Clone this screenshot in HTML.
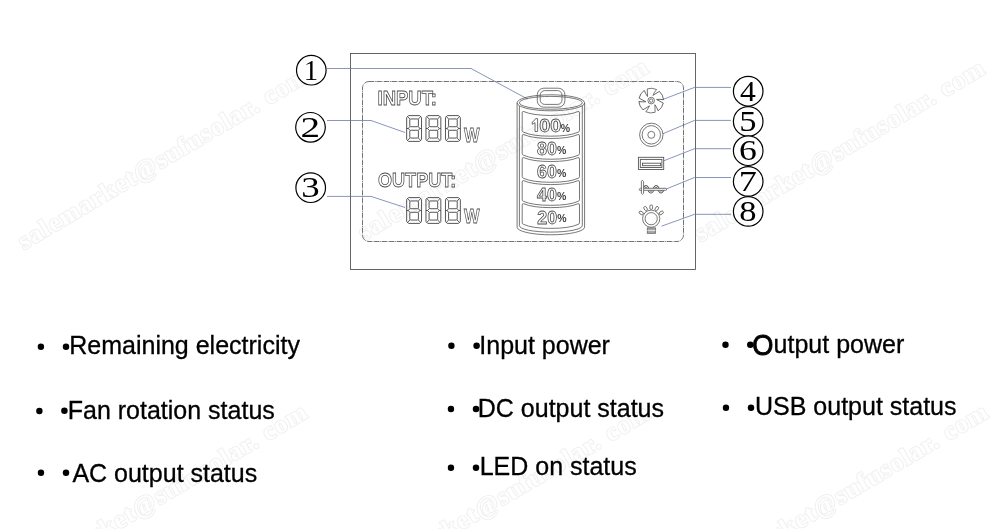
<!DOCTYPE html>
<html>
<head>
<meta charset="utf-8">
<title>LCD panel</title>
<style>
html,body{margin:0;padding:0;background:#fff;}
body{width:1000px;height:529px;overflow:hidden;font-family:"Liberation Sans",sans-serif;}
svg{display:block;position:absolute;left:0;top:0;will-change:transform;}
.wm{font-family:"Liberation Serif",serif;font-weight:bold;font-size:25px;fill:#fff;stroke:#f1f1f1;stroke-width:2.2;paint-order:stroke;stroke-linejoin:round;}
.lbl{font-family:"Liberation Sans",sans-serif;font-size:25px;fill:#000;stroke:#000;stroke-width:0.3;}
.num{font-family:"Liberation Serif",serif;font-size:28.8px;fill:#000;text-anchor:middle;}
.ol{font-family:"Liberation Sans",sans-serif;font-weight:bold;fill:none;stroke:#4a4a4a;stroke-width:0.8;}
.pct{font-family:"Liberation Sans",sans-serif;font-weight:bold;font-size:10.5px;fill:#444;}
.ic{fill:none;stroke:#555;stroke-width:0.8;}
.co{fill:none;stroke:#5f73a2;stroke-width:0.75;}
.ring{fill:#fff;stroke:#000;stroke-width:1.2;}
</style>
</head>
<body>
<svg width="1000" height="529" viewBox="0 0 1000 529">
<rect x="0" y="0" width="1000" height="529" fill="#fff"/>

<!-- watermarks -->
<g id="wm">
<text class="wm" transform="translate(24,250) rotate(-30.6)" textLength="332" lengthAdjust="spacing">salemarket@sufusolar. com</text>
<text class="wm" transform="translate(364,241) rotate(-30.6)" textLength="332" lengthAdjust="spacing">salemarket@sufusolar. com</text>
<text class="wm" transform="translate(700.5,242.2) rotate(-30.6)" textLength="332" lengthAdjust="spacing">salemarket@sufusolar. com</text>
<text class="wm" transform="translate(23,586) rotate(-30.6)" textLength="332" lengthAdjust="spacing">salemarket@sufusolar. com</text>
<text class="wm" transform="translate(365.7,586.7) rotate(-30.6)" textLength="332" lengthAdjust="spacing">salemarket@sufusolar. com</text>
<text class="wm" transform="translate(703.7,585.8) rotate(-30.6)" textLength="332" lengthAdjust="spacing">salemarket@sufusolar. com</text>
</g>

<!-- panel -->
<rect x="350.5" y="53.5" width="345" height="216" fill="none" stroke="#4a4a4a" stroke-width="0.85"/>
<rect x="362.5" y="81.5" width="321" height="160" rx="6.5" ry="6.5" fill="none" stroke="#5a5a5a" stroke-width="0.85" stroke-dasharray="5.2 0.8 0.8 0.7"/>

<!-- callout lines -->
<g class="co">
<polyline points="327,68.5 471,68.5 527.5,99"/>
<polyline points="327,120.5 371,120.5 405,132.5"/>
<polyline points="327,196.4 371,196.4 405,207.5"/>
<polyline points="731,87.4 694.5,87.4 662.5,99.6"/>
<polyline points="731,120.4 694.5,120.4 663,133.7"/>
<polyline points="731,148.7 694.5,148.7 664,160.7"/>
<polyline points="731,177.5 694.5,177.5 665,189.5"/>
<polyline points="731,214.3 694.5,214.3 661.5,226.2"/>
</g>

<!-- numbered circles -->
<g id="nums">
<circle class="ring" cx="311.3" cy="70.2" r="14.8"/><text class="num" transform="translate(311,79.5) scale(1,1)" x="0" y="0">1</text>
<circle class="ring" cx="310.5" cy="127.3" r="14.8"/><text class="num" transform="translate(310.2,136.6) scale(1.36,1)" x="0" y="0">2</text>
<circle class="ring" cx="310.7" cy="187.7" r="14.8"/><text class="num" transform="translate(310.4,197) scale(1.28,1)" x="0" y="0">3</text>
<circle class="ring" cx="748.2" cy="91.2" r="14.8"/><text class="num" transform="translate(747.9,100.5) scale(1.1,1)" x="0" y="0">4</text>
<circle class="ring" cx="748.2" cy="121.4" r="14.8"/><text class="num" transform="translate(747.9,130.7) scale(1.2,1)" x="0" y="0">5</text>
<circle class="ring" cx="748.2" cy="150.7" r="14.8"/><text class="num" transform="translate(747.9,160) scale(1.24,1)" x="0" y="0">6</text>
<circle class="ring" cx="748.2" cy="181.4" r="14.8"/><text class="num" transform="translate(747.9,190.7) scale(1.26,1)" x="0" y="0">7</text>
<circle class="ring" cx="748.2" cy="211.4" r="14.8"/><text class="num" transform="translate(747.9,220.7) scale(1.2,1)" x="0" y="0">8</text>
</g>

<!-- INPUT / OUTPUT -->
<text class="ol" x="377.6" y="104.8" font-size="20.5" textLength="59.4" lengthAdjust="spacingAndGlyphs">INPUT:</text>
<text class="ol" x="378" y="187.3" font-size="20.5" textLength="78.3" lengthAdjust="spacingAndGlyphs">OUTPUT:</text>
<text class="ol" x="464" y="141.5" font-size="21" textLength="15.6" lengthAdjust="spacingAndGlyphs">W</text>
<text class="ol" x="464" y="223.3" font-size="21" textLength="15.6" lengthAdjust="spacingAndGlyphs">W</text>

<!-- seven segment digits -->
<defs>
<g id="seg7" class="ic" transform="translate(0.7,0.2) scale(0.918,0.985)" stroke="#444" style="stroke:#444;stroke-width:0.95">
  <path d="M2.4,0.4 L14.6,0.4 L16.6,2.4 L16.6,24.6 L14.6,26.6 L2.4,26.6 L0.4,24.6 L0.4,2.4 Z"/>
  <path d="M4.6,3.8 L12.4,3.8 L13.2,4.6 L13.2,10.9 L12.4,11.7 L4.6,11.7 L3.8,10.9 L3.8,4.6 Z"/>
  <path d="M4.6,15.3 L12.4,15.3 L13.2,16.1 L13.2,22.4 L12.4,23.2 L4.6,23.2 L3.8,22.4 L3.8,16.1 Z"/>
  <path d="M1.2,1.2 L4.1,4.1 M15.8,1.2 L12.9,4.1 M1.2,25.8 L4.1,22.9 M15.8,25.8 L12.9,22.9"/>
  <path d="M0.4,13.5 L2,13.5 L4.2,11.5 M2,13.5 L4.2,15.5 M16.6,13.5 L15,13.5 L12.8,11.5 M15,13.5 L12.8,15.5"/>
</g>
</defs>
<use href="#seg7" x="405.6" y="115"/>
<use href="#seg7" x="424.9" y="115"/>
<use href="#seg7" x="444.4" y="115"/>
<use href="#seg7" x="405.6" y="197"/>
<use href="#seg7" x="424.9" y="197"/>
<use href="#seg7" x="444.4" y="197"/>

<!-- battery -->
<g id="battery" class="ic">
  <path d="M517.1,103 L517.1,227.2 A33.75,7.6 0 0 0 584.6,227.2 L584.6,103"/>
  <path d="M519.4,106 L519.4,225.7 A31.45,6.4 0 0 0 582.3,225.7 L582.3,106"/>
  <ellipse cx="550.85" cy="102.8" rx="33.75" ry="8"/>
  <ellipse cx="550.85" cy="102.8" rx="31.45" ry="6.4"/>
  <rect x="537.3" y="88.2" width="27.6" height="19" rx="6.5" ry="6.5"/>
  <rect x="540.2" y="90.6" width="21.8" height="13.8" rx="4.5" ry="4.5"/>
  <path d="M522.20,112.80 Q522.20,111.10 523.80,111.55 A31,7.6 0 0 0 577.90,111.55 Q579.50,111.10 579.50,112.80 L579.50,130.60 Q579.50,131.80 578.10,132.20 A31,7.6 0 0 1 523.60,132.20 Q522.20,131.80 522.20,130.60 Z"/>
  <path d="M522.20,135.85 Q522.20,134.15 523.80,134.60 A31,7.6 0 0 0 577.90,134.60 Q579.50,134.15 579.50,135.85 L579.50,153.65 Q579.50,154.85 578.10,155.25 A31,7.6 0 0 1 523.60,155.25 Q522.20,154.85 522.20,153.65 Z"/>
  <path d="M522.20,158.90 Q522.20,157.20 523.80,157.65 A31,7.6 0 0 0 577.90,157.65 Q579.50,157.20 579.50,158.90 L579.50,176.70 Q579.50,177.90 578.10,178.30 A31,7.6 0 0 1 523.60,178.30 Q522.20,177.90 522.20,176.70 Z"/>
  <path d="M522.20,181.95 Q522.20,180.25 523.80,180.70 A31,7.6 0 0 0 577.90,180.70 Q579.50,180.25 579.50,181.95 L579.50,199.75 Q579.50,200.95 578.10,201.35 A31,7.6 0 0 1 523.60,201.35 Q522.20,200.95 522.20,199.75 Z"/>
  <path d="M522.20,205.00 Q522.20,203.30 523.80,203.75 A31,7.6 0 0 0 577.90,203.75 Q579.50,203.30 579.50,205.00 L579.50,222.80 Q579.50,224.00 578.10,224.40 A31,7.6 0 0 1 523.60,224.40 Q522.20,224.00 522.20,222.80 Z"/>
</g>
<g id="battxt">
<path class="ol" d="M537.6,131.5 L537.6,118.6 L535.6,118.6 Q534.6,121 532.2,122 L532.2,124.3 Q534,123.6 535,122.6 L535,131.5 Z"/><text class="ol" x="539.2" y="131.5" font-size="18.2" textLength="22" lengthAdjust="spacingAndGlyphs">00</text><text class="pct" x="560.8" y="131.6">%</text>
<text class="ol" x="537" y="154.6" font-size="18.2" textLength="19.8" lengthAdjust="spacingAndGlyphs">80</text><text class="pct" x="557" y="154.4">%</text>
<text class="ol" x="537" y="177.7" font-size="18.2" textLength="19.8" lengthAdjust="spacingAndGlyphs">60</text><text class="pct" x="557" y="177.3">%</text>
<text class="ol" x="537" y="200.8" font-size="18.2" textLength="19.8" lengthAdjust="spacingAndGlyphs">40</text><text class="pct" x="557" y="200.2">%</text>
<text class="ol" x="537.3" y="223.9" font-size="18.2" textLength="19.8" lengthAdjust="spacingAndGlyphs">20</text><text class="pct" x="557.2" y="222.2">%</text>
</g>

<!-- icons -->
<g id="icons" class="ic">
  <!-- fan -->
  <g transform="translate(651.2,100.6)">
    <circle r="3.3"/><circle r="1.7"/>
    <path id="blade" d="M-3.7,-4.1 L-3.9,-11.7 A12.3,12.3 0 0 1 5.4,-11.1 Q3.2,-8.6 1.7,-5.2"/>
    <use href="#blade" transform="rotate(60)"/>
    <use href="#blade" transform="rotate(120)"/>
    <use href="#blade" transform="rotate(180)"/>
    <use href="#blade" transform="rotate(240)"/>
    <use href="#blade" transform="rotate(300)"/>
  </g>
  <!-- DC -->
  <circle cx="651.3" cy="134.85" r="11.7"/>
  <circle cx="651.3" cy="134.85" r="9.2"/>
  <circle cx="651.3" cy="134.85" r="3.5"/>
  <!-- USB -->
  <g stroke="#555" stroke-width="0.9">
  <rect x="638.4" y="157.3" width="25.3" height="12.2"/>
  <rect x="640.3" y="159.4" width="21.6" height="8.1"/>
  <rect x="642.5" y="163.2" width="18.2" height="2.5"/>
  </g>
  <!-- AC -->
  <g stroke-linecap="round" stroke-linejoin="round">
  <path d="M643.6,189.3 Q645.9,183.3 648.4,189.3 Q650.9,195.3 653.6,189.3 Q656.3,183.3 658.6,189.3 Q660.9,195.3 663.4,189.3" stroke="#555" stroke-width="2.4"/>
  <path d="M643.6,189.3 Q645.9,183.3 648.4,189.3 Q650.9,195.3 653.6,189.3 Q656.3,183.3 658.6,189.3 Q660.9,195.3 663.4,189.3" stroke="#fff" stroke-width="1"/>
  <path d="M639.2,189.3 L640.4,188.3 L665.8,188.3 L667,189.3 L665.8,190.3 L640.4,190.3 Z" fill="#fff"/>
  <path d="M642.5,180.5 L643.6,181.5 L643.6,193.4 L642.5,194.4 L641.4,193.4 L641.4,181.5 Z" fill="#fff"/>
  </g>
  <!-- LED -->
  <circle cx="651.2" cy="218.7" r="8.6"/>
  <circle cx="651.2" cy="218.7" r="6.1"/>
  <rect x="647.3" y="227.9" width="8.2" height="5.4" fill="#aaa" stroke="#666"/>
  <path d="M647.3,230.5 L655.5,230.5" stroke="#fff" stroke-width="0.6"/>
  <g transform="translate(651.2,218.7)">
    <rect id="ray" x="-1.35" y="-13.8" width="2.7" height="4.5" rx="1.3" ry="1.3" fill="#fff"/>
    <use href="#ray" transform="rotate(-29)"/>
    <use href="#ray" transform="rotate(29)"/>
    <use href="#ray" transform="rotate(-60)"/>
    <use href="#ray" transform="rotate(60)"/>
  </g>
</g>

<!-- labels -->
<g id="labels">
<circle cx="40.9" cy="346.7" r="3.2"/><circle cx="66" cy="346.8" r="3.25"/><text class="lbl" x="69.25" y="353.85">Remaining electricity</text>
<circle cx="39.4" cy="411" r="3.2"/><circle cx="64.4" cy="410.8" r="3.25"/><text class="lbl" x="67.75" y="418.85">Fan rotation status</text>
<circle cx="40.96" cy="472.8" r="3.2"/><circle cx="66" cy="472.8" r="3.25"/><text class="lbl" x="72.4" y="481.85">AC output status</text>
<circle cx="451.4" cy="345.8" r="3.2"/><circle cx="476.6" cy="345.8" r="3.25"/><text class="lbl" x="479.3" y="353.85">Input power</text>
<circle cx="450.96" cy="408.96" r="3.2"/><circle cx="476" cy="408.96" r="3.25"/><text class="lbl" x="477.8" y="416.65">DC output status</text>
<circle cx="450.96" cy="467.76" r="3.2"/><circle cx="476" cy="467.76" r="3.25"/><text class="lbl" x="479.7" y="474.8">LED on status</text>
<circle cx="725.5" cy="344.7" r="3.2"/><circle cx="750.3" cy="344.8" r="3.25"/><text class="lbl" transform="translate(752.2,354.6) scale(0.95,1)" style="font-size:28.6px;stroke-width:0.9">O</text><text class="lbl" x="773.6" y="352.6">utput power</text>
<circle cx="725.96" cy="407.76" r="3.2"/><circle cx="751" cy="407.76" r="3.25"/><text class="lbl" x="755" y="414.6">USB output status</text>
</g>
</svg>
</body>
</html>
